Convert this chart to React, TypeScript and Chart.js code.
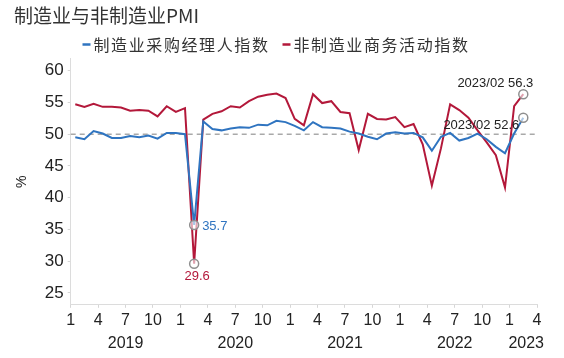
import React, { useEffect, useRef } from "react";
import { Chart, registerables } from "chart.js";

Chart.register(...registerables);

const NUM_FONT = "'Liberation Sans', 'Noto Sans CJK SC', Arial, sans-serif";
const CJK_FONT = "'Noto Sans CJK SC', 'Liberation Sans', sans-serif";

const titleText = "制造业与非制造业PMI";
const seriesNames = ["制造业采购经理人指数", "非制造业商务活动指数"];
const seriesColors = ["#2f74c0", "#b3183a"];

const monthLabels = [
  "2019/01", "2019/02", "2019/03", "2019/04", "2019/05", "2019/06", "2019/07", "2019/08", "2019/09", "2019/10", "2019/11", "2019/12",
  "2020/01", "2020/02", "2020/03", "2020/04", "2020/05", "2020/06", "2020/07", "2020/08", "2020/09", "2020/10", "2020/11", "2020/12",
  "2021/01", "2021/02", "2021/03", "2021/04", "2021/05", "2021/06", "2021/07", "2021/08", "2021/09", "2021/10", "2021/11", "2021/12",
  "2022/01", "2022/02", "2022/03", "2022/04", "2022/05", "2022/06", "2022/07", "2022/08", "2022/09", "2022/10", "2022/11", "2022/12",
  "2023/01", "2023/02",
];

const manufacturingPMI = [
  49.5, 49.2, 50.5, 50.1, 49.4, 49.4, 49.7, 49.5, 49.8, 49.3, 50.2, 50.2,
  50.0, 35.7, 52.0, 50.8, 50.6, 50.9, 51.1, 51.0, 51.5, 51.4, 52.1, 51.9,
  51.3, 50.6, 51.9, 51.1, 51.0, 50.9, 50.4, 50.1, 49.6, 49.2, 50.1, 50.3,
  50.1, 50.2, 49.5, 47.4, 49.6, 50.2, 49.0, 49.4, 50.1, 49.2, 48.0, 47.0,
  50.1, 52.6,
];

const nonManufacturingPMI = [
  54.7, 54.3, 54.8, 54.3, 54.3, 54.2, 53.7, 53.8, 53.7, 52.8, 54.4, 53.5,
  54.1, 29.6, 52.3, 53.2, 53.6, 54.4, 54.2, 55.2, 55.9, 56.2, 56.4, 55.7,
  52.4, 51.4, 56.3, 54.9, 55.2, 53.5, 53.3, 47.5, 53.2, 52.4, 52.3, 52.7,
  51.1, 51.6, 48.4, 41.9, 47.8, 54.7, 53.8, 52.6, 50.6, 48.7, 46.7, 41.6,
  54.4, 56.3,
];

// x-axis month tick labels (every 3 months, Jan 2019 .. Apr 2023)
const xTickLabels = ["1", "4", "7", "10", "1", "4", "7", "10", "1", "4", "7", "10", "1", "4", "7", "10", "1", "4"];
const yearLabels = ["2019", "2020", "2021", "2022", "2023"];
const yTicks = [25, 30, 35, 40, 45, 50, 55, 60];
const referenceLine = 50;
const highlightMonths = ["2020/02", "2023/02"];

const MONTHS_PER_TICK = 3;
const X_MAX = (xTickLabels.length - 1) * MONTHS_PER_TICK;

const dashedLinePlugin = {
  id: "refLine",
  beforeDatasetsDraw(chart: any) {
    const { ctx, chartArea, scales } = chart;
    const y = scales.y.getPixelForValue(referenceLine);
    ctx.save();
    ctx.strokeStyle = "#a9a9a9";
    ctx.lineWidth = 1.5;
    ctx.setLineDash([5, 4]);
    ctx.beginPath();
    ctx.moveTo(chartArea.left, y);
    ctx.lineTo(chartArea.right, y);
    ctx.stroke();
    ctx.restore();
  },
};

const legendPlugin = {
  id: "customLegend",
  afterDraw(chart: any) {
    const ctx = chart.ctx;
    ctx.save();
    ctx.font = `16px ${CJK_FONT}`;
    (ctx as any).letterSpacing = "1.6px";
    const markerW = 8;
    const gap = 3;
    const itemGap = 13;
    const items = chart.data.datasets.map((ds: any) => ({
      text: ds.label,
      color: ds.borderColor,
      w: ctx.measureText(ds.label).width,
    }));
    const total =
      items.reduce((s: number, it: any) => s + markerW + gap + it.w, 0) + itemGap * (items.length - 1);
    let x = chart.width / 2 - 6 - total / 2;
    const y = 44.5;
    ctx.textBaseline = "middle";
    ctx.textAlign = "left";
    items.forEach((it: any) => {
      ctx.strokeStyle = it.color;
      ctx.lineWidth = 2.5;
      ctx.beginPath();
      ctx.moveTo(x, y);
      ctx.lineTo(x + markerW, y);
      ctx.stroke();
      x += markerW + gap;
      ctx.fillStyle = "#333333";
      ctx.fillText(it.text, x, y);
      x += it.w + itemGap;
    });
    ctx.restore();
  },
};

const yearLabelPlugin = {
  id: "yearLabels",
  afterDraw(chart: any) {
    const { ctx, scales } = chart;
    ctx.save();
    ctx.font = `16px ${NUM_FONT}`;
    ctx.fillStyle = "#222222";
    ctx.textAlign = "center";
    ctx.textBaseline = "middle";
    yearLabels.forEach((label, k) => {
      const w = ctx.measureText(label).width;
      let x = scales.x.getPixelForValue(k * 12 + 6);
      x = Math.min(x, chart.width - 20 - w / 2);
      ctx.fillText(label, x, 344);
    });
    ctx.restore();
  },
};

const annotationPlugin = {
  id: "pointLabels",
  afterDatasetsDraw(chart: any) {
    const ctx = chart.ctx;
    const i2020 = monthLabels.indexOf(highlightMonths[0]);
    const i2023 = monthLabels.indexOf(highlightMonths[1]);
    const m0 = chart.getDatasetMeta(0).data;
    const m1 = chart.getDatasetMeta(1).data;
    ctx.save();
    ctx.font = `13px ${NUM_FONT}`;
    // Feb 2020 manufacturing
    ctx.fillStyle = seriesColors[0];
    ctx.textAlign = "left";
    ctx.textBaseline = "middle";
    ctx.fillText(manufacturingPMI[i2020].toFixed(1), m0[i2020].x + 8, m0[i2020].y + 1);
    // Feb 2020 non-manufacturing
    ctx.fillStyle = seriesColors[1];
    ctx.textAlign = "center";
    ctx.textBaseline = "top";
    ctx.fillText(nonManufacturingPMI[i2020].toFixed(1), m1[i2020].x + 3, m1[i2020].y + 6);
    // Feb 2023
    ctx.fillStyle = "#222222";
    ctx.textAlign = "right";
    ctx.textBaseline = "middle";
    ctx.fillText(`${monthLabels[i2023]} ${nonManufacturingPMI[i2023].toFixed(1)}`, m1[i2023].x + 10, m1[i2023].y - 11);
    ctx.fillText(`${monthLabels[i2023]} ${manufacturingPMI[i2023].toFixed(1)}`, m0[i2023].x - 4, m0[i2023].y + 8);
    ctx.restore();
  },
};

export default function App() {
  const canvasRef = useRef<HTMLCanvasElement | null>(null);

  useEffect(() => {
    if (!canvasRef.current) return;
    const highlightIdx = highlightMonths.map((m) => monthLabels.indexOf(m));
    const pointRadius = (c: any) => (highlightIdx.includes(c.dataIndex) ? 4.5 : 0);

    const makePoints = (vals: number[]) => vals.map((v, i) => ({ x: i + 0.5, y: v }));

    const chart = new Chart(canvasRef.current, {
      type: "line",
      data: {
        datasets: [
          {
            label: seriesNames[0],
            data: makePoints(manufacturingPMI),
            borderColor: seriesColors[0],
            backgroundColor: seriesColors[0],
            borderWidth: 2,
            tension: 0,
            pointRadius,
            pointHoverRadius: pointRadius,
            pointBorderColor: "#8f8f8f",
            pointBackgroundColor: "rgba(255,255,255,0.6)",
            pointBorderWidth: 1.5,
          },
          {
            label: seriesNames[1],
            data: makePoints(nonManufacturingPMI),
            borderColor: seriesColors[1],
            backgroundColor: seriesColors[1],
            borderWidth: 2,
            tension: 0,
            pointRadius,
            pointHoverRadius: pointRadius,
            pointBorderColor: "#8f8f8f",
            pointBackgroundColor: "rgba(255,255,255,0.6)",
            pointBorderWidth: 1.5,
          },
        ],
      },
      options: {
        animation: false,
        responsive: false,
        maintainAspectRatio: false,
        events: [],
        layout: { padding: { left: 14, right: 27, bottom: 25, top: 0 } },
        plugins: {
          legend: { display: false },
          tooltip: { enabled: false },
          title: {
            display: true,
            text: titleText,
            align: "start",
            color: "#333333",
            font: { size: 19, family: CJK_FONT, weight: "normal" },
            padding: { top: 4, bottom: 32 },
          },
        },
        scales: {
          x: {
            type: "linear",
            min: 0,
            max: X_MAX,
            afterBuildTicks: (scale: any) => {
              scale.ticks = xTickLabels.map((_, k) => ({ value: k * MONTHS_PER_TICK }));
            },
            ticks: {
              autoSkip: false,
              maxRotation: 0,
              minRotation: 0,
              padding: 3,
              color: "#222222",
              font: { size: 16, family: NUM_FONT },
              callback: (_v: any, index: number) => xTickLabels[index],
            },
            grid: { drawOnChartArea: false, tickLength: 3, color: "#d6d6d6" },
            border: { color: "#dcdcdc", width: 1 },
          },
          y: {
            type: "linear",
            min: 23.13,
            max: 61.87,
            afterBuildTicks: (scale: any) => {
              scale.ticks = yTicks.map((v) => ({ value: v }));
            },
            ticks: {
              padding: 4,
              color: "#222222",
              font: { size: 17, family: NUM_FONT },
              callback: (v: any) => String(v),
            },
            grid: { drawOnChartArea: false, tickLength: 3, color: "#d6d6d6" },
            border: { color: "#dcdcdc", width: 1 },
            title: {
              display: true,
              text: "%",
              color: "#222222",
              font: { size: 14, family: NUM_FONT },
              padding: { top: 0, bottom: 10 },
            },
          },
        },
      },
      plugins: [dashedLinePlugin, annotationPlugin, legendPlugin, yearLabelPlugin],
    } as any);

    return () => chart.destroy();
  }, []);

  return (
    <div style={{ position: "fixed", left: 0, top: 0, width: 564, height: 358, background: "#ffffff" }}>
      <canvas ref={canvasRef} width={564} height={358} style={{ display: "block" }} />
    </div>
  );
}
